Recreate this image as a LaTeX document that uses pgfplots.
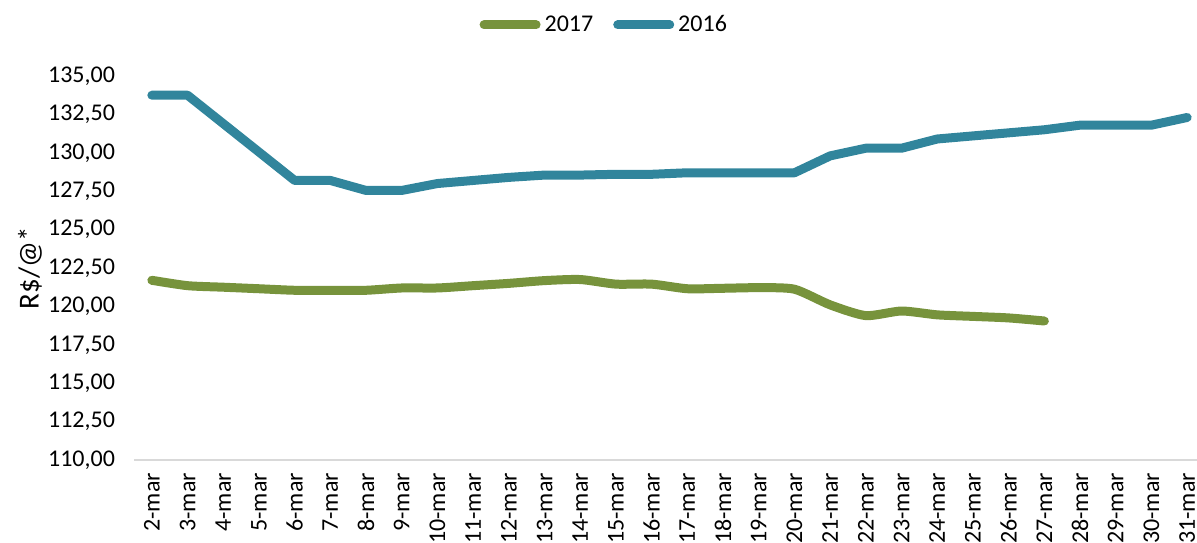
\documentclass[border=0pt]{standalone}
\usepackage{pgfplots}
\pgfplotsset{compat=1.18}
\usepackage{pgfplotstable}
\usepackage{fontspec}
\setmainfont{Carlito}
\definecolor{cgreen}{HTML}{77933C}
\definecolor{cblue}{HTML}{31859C}
\pgfplotstableread{
x y
0 121.70
1 121.35
2 121.25
3 121.15
4 121.05
5 121.05
6 121.05
7 121.20
8 121.20
9 121.35
10 121.50
11 121.68
12 121.75
13 121.45
14 121.45
15 121.15
16 121.18
17 121.22
18 121.12
19 120.10
20 119.40
21 119.70
22 119.45
23 119.35
24 119.25
25 119.05
}\greendata
\pgfplotstableread{
x y
0 133.75
1 133.75
2 131.90
3 130.05
4 128.20
5 128.20
6 127.55
7 127.55
8 128.00
9 128.20
10 128.40
11 128.55
12 128.55
13 128.60
14 128.60
15 128.70
16 128.70
17 128.70
18 128.70
19 129.80
20 130.30
21 130.30
22 130.90
23 131.10
24 131.30
25 131.50
26 131.80
27 131.80
28 131.80
29 132.30
}\bluedata
\begin{document}
\begin{tikzpicture}
\useasboundingbox (0,0) rectangle (598.5pt,271pt);
\begin{axis}[
  at={(67pt,41pt)}, anchor=south west,
  scale only axis, width=535.5pt, height=192pt,
  xmin=-0.5, xmax=29.5, ymin=110, ymax=135,
  axis x line*=bottom, axis y line*=left,
  x axis line style={draw=gray!30, line width=1.2pt},
  y axis line style={draw=none},
  xtick={0,...,29},
  xticklabels={2-mar,3-mar,4-mar,5-mar,6-mar,7-mar,8-mar,9-mar,10-mar,11-mar,12-mar,13-mar,14-mar,15-mar,16-mar,17-mar,18-mar,19-mar,20-mar,21-mar,22-mar,23-mar,24-mar,25-mar,26-mar,27-mar,28-mar,29-mar,30-mar,31-mar},
  x tick label style={rotate=90, anchor=east, font=\fontsize{12}{14}\selectfont},
  xticklabel shift=3pt,
  ytick={110,112.5,...,135},
  y tick label style={font=\fontsize{12}{14}\selectfont},
  yticklabel style={/pgf/number format/.cd, fixed, fixed zerofill, precision=2, use comma, 1000 sep={}},
  /pgf/number format/assume math mode=true,
  major tick length=0pt,
  yticklabel shift=6pt,
  ylabel={R\$/@*},
  every axis y label/.style={at={(rel axis cs:0,0.5)}, xshift=-52pt, rotate=90, anchor=center, font=\fontsize{14.5}{16}\selectfont},
  legend columns=2,
  legend style={at={(rel axis cs:0.44,1.133)}, anchor=center, draw=none, fill=none,
    font=\fontsize{12}{14}\selectfont, /tikz/every even column/.append style={column sep=8pt}},
  legend image code/.code={\draw[#1, line cap=round] (0pt,0pt) -- (26pt,0pt);},
  clip=false,
]
\addplot[cgreen, line width=4.5pt, line cap=round, line join=round, smooth, tension=0.4] table[x=x,y=y] {\greendata};
\addlegendentry{2017}
\addplot[cblue, line width=4.5pt, line cap=round, line join=round] table[x=x,y=y] {\bluedata};
\addlegendentry{2016}
\end{axis}
\end{tikzpicture}
\end{document}
